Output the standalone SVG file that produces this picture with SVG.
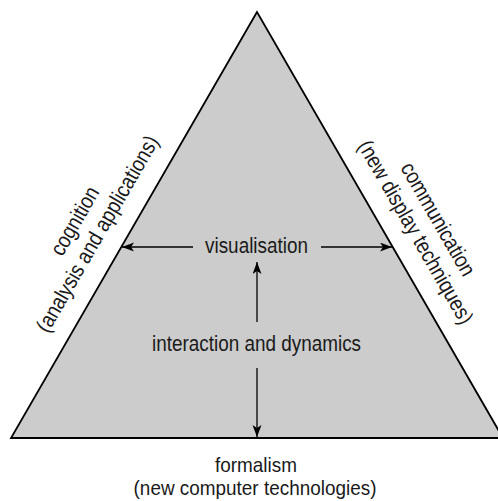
<svg xmlns="http://www.w3.org/2000/svg" width="498" height="501" viewBox="0 0 498 501">
<style>
text{font-family:"Liberation Sans",Arial,sans-serif;font-size:22px;fill:#1a1a1a;text-anchor:middle}
text.f{font-size:20.5px}
.c{stroke:#000;stroke-width:1.3;fill:none}
</style>
<defs>
<marker id="ah" markerUnits="userSpaceOnUse" markerWidth="14" markerHeight="10" refX="12" refY="4.5" orient="auto">
<path d="M0,0 L12,4.5 L0,9 L3,4.5 z" fill="#000"/>
</marker>
</defs>
<rect width="498" height="501" fill="#fff"/>
<g id="triangle">
<polygon points="257,12 11,438 503,438" fill="#cccccc" stroke="#000" stroke-width="1.8" stroke-linejoin="miter"/>
</g>
<g id="connectors">
<line class="c" x1="193" y1="247" x2="122" y2="247" marker-end="url(#ah)"/>
<line class="c" x1="321" y1="247" x2="392" y2="247" marker-end="url(#ah)"/>
<line class="c" x1="257" y1="322" x2="257" y2="262" marker-end="url(#ah)"/>
<line class="c" x1="257" y1="368" x2="257" y2="437" marker-end="url(#ah)"/>
</g>
<g id="visualisation">
<text transform="translate(256.5,253) scale(0.86,1)">visualisation</text>
</g>
<g id="interaction">
<text transform="translate(256.5,351) scale(0.86,1)">interaction and dynamics</text>
</g>
<g id="formalism">
<text class="f" transform="translate(256,471.5) scale(0.923,1)">formalism</text>
<text class="f" transform="translate(255,494.5) scale(0.923,1)">(new computer technologies)</text>
</g>
<g id="cognition">
<text transform="translate(81.2,224.6) rotate(-60) scale(0.86,1)">cognition</text>
<text transform="translate(103.7,237.6) rotate(-60) scale(0.86,1)">(analysis and applications)</text>
</g>
<g id="communication">
<text transform="translate(431.8,222.8) rotate(60) scale(0.86,1)">communication</text>
<text transform="translate(409.3,235.8) rotate(60) scale(0.86,1)">(new display techniques)</text>
</g>
</svg>
